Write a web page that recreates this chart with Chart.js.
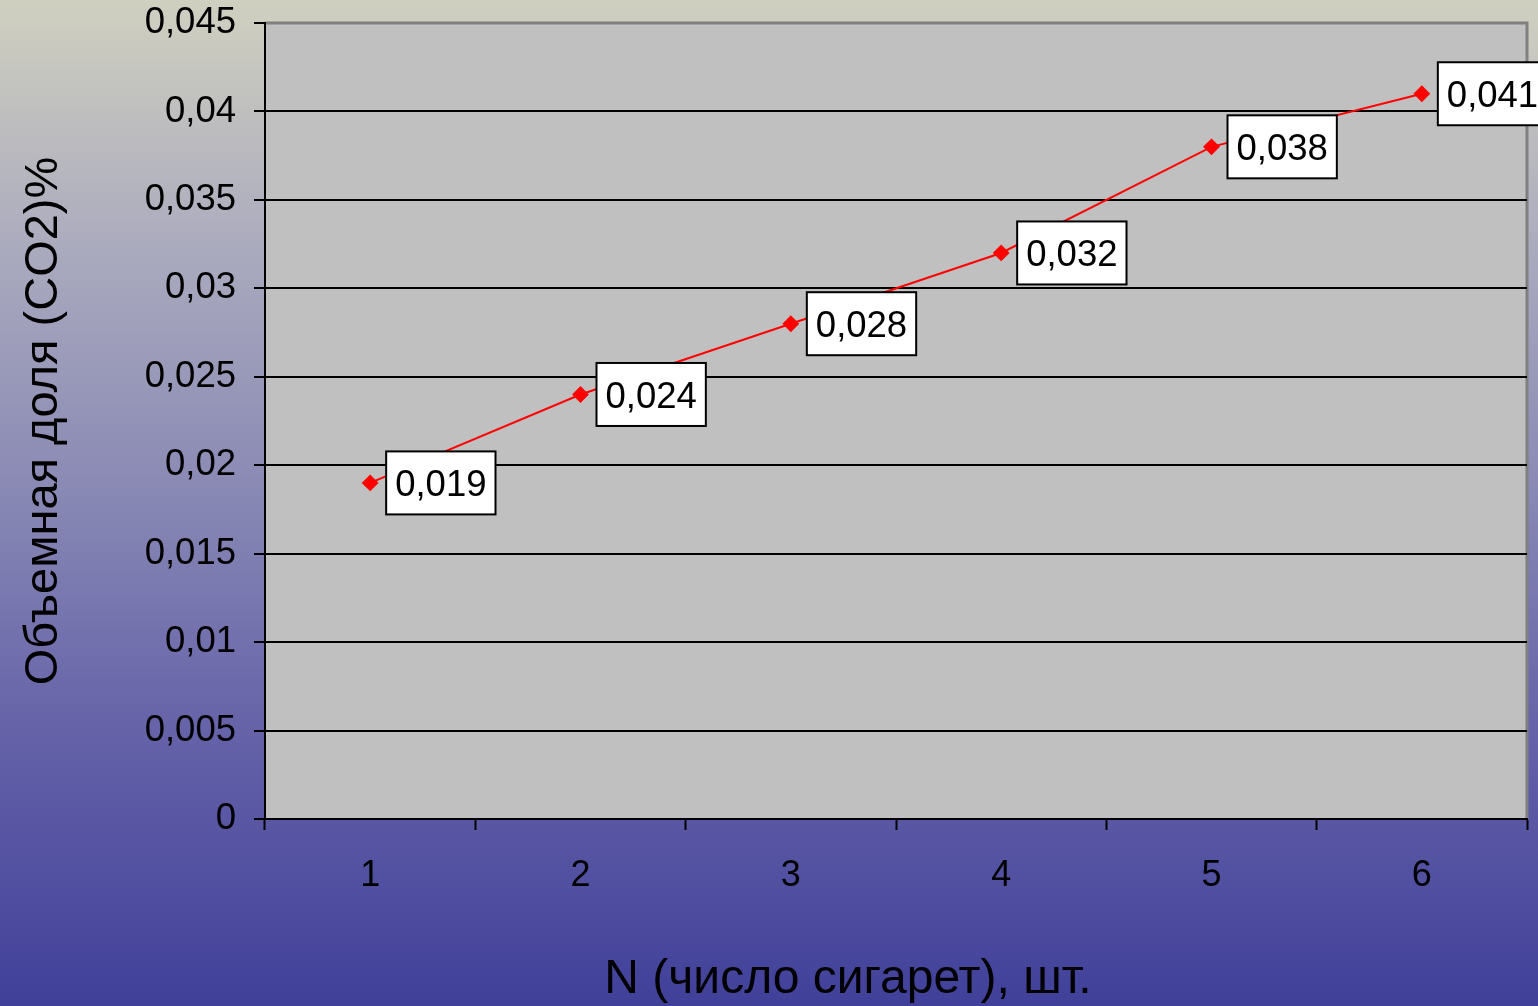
<!DOCTYPE html>
<html>
<head>
<meta charset="utf-8">
<script src="https://cdn.jsdelivr.net/npm/chart.js@4.4.1/dist/chart.umd.min.js"></script>
<style>
  html, body { margin: 0; padding: 0; }
  body { width: 1538px; height: 1006px; overflow: hidden; }
  #wrap { width: 1538px; height: 1006px; }
</style>
</head>
<body>
<div id="wrap"><canvas id="co2Chart"></canvas></div>
<script>
// значения с графика
const categories = ['1', '2', '3', '4', '5', '6'];
const co2Values = [0.019, 0.024, 0.028, 0.032, 0.038, 0.041];
const yMin = 0;
const yMax = 0.045;
const yStep = 0.005;
const xTitle = 'N (число сигарет), шт.';
const yTitle = 'Объемная доля (CO2)%';

const FONT = 'Arial, "Liberation Sans", sans-serif';
const fmt = v => Number(v.toFixed(3)).toString().replace('.', ',');

// фон слайда и серая область построения
const bgPlugin = {
    id: 'bg',
    beforeDraw(chart) {
        const c = chart.ctx;
        const g = c.createLinearGradient(0, 0, 0, chart.height);
        g.addColorStop(0, 'rgb(208,208,192)');
        g.addColorStop(0.25, 'rgb(170,170,190)');
        g.addColorStop(0.5, 'rgb(135,135,180)');
        g.addColorStop(0.7, 'rgb(105,102,170)');
        g.addColorStop(1, 'rgb(64,64,154)');
        c.save();
        c.fillStyle = g;
        c.fillRect(0, 0, chart.width, chart.height);
        const a = chart.chartArea;
        c.fillStyle = '#c0c0c0';
        c.fillRect(a.left, a.top, a.right - a.left, a.bottom - a.top);
        c.strokeStyle = '#808080';
        c.lineWidth = 3;
        c.beginPath();
        c.moveTo(a.left, a.top);
        c.lineTo(a.right, a.top);
        c.lineTo(a.right, a.bottom);
        c.stroke();
        c.restore();
    },
    afterDraw(chart) {
        // подпись оси X чуть левее центра, как на слайде
        const c = chart.ctx;
        c.save();
        c.font = '48px ' + FONT;
        c.fillStyle = '#000';
        c.textAlign = 'center';
        c.textBaseline = 'middle';
        c.fillText(xTitle, 848, 980);
        c.restore();
    }
};

// подписи значений в белых рамках
const labelPlugin = {
    id: 'boxLabels',
    afterDatasetsDraw(chart) {
        const c = chart.ctx;
        const meta = chart.getDatasetMeta(0);
        c.save();
        c.font = '36.5px ' + FONT;
        c.textBaseline = 'middle';
        c.textAlign = 'left';
        meta.data.forEach((pt, i) => {
            const txt = fmt(co2Values[i]);
            const w = c.measureText(txt).width + 18;
            const h = 63;
            const x = pt.x + 16;
            const y = pt.y - h / 2;
            c.fillStyle = '#fff';
            c.fillRect(x, y, w, h);
            c.strokeStyle = '#000';
            c.lineWidth = 2;
            c.strokeRect(x, y, w, h);
            c.fillStyle = '#000';
            c.fillText(txt, x + 9, y + h / 2 + 3);
        });
        c.restore();
    }
};

const ctx = document.getElementById('co2Chart').getContext('2d');

new Chart(ctx, {
    type: 'line',
    data: {
        labels: categories,
        datasets: [{
            data: co2Values,
            borderColor: '#ff0000',
            backgroundColor: '#ff0000',
            borderWidth: 2,
            tension: 0,
            pointStyle: 'rectRot',
            pointRadius: 7,
            pointBackgroundColor: '#ff0000',
            pointBorderColor: '#ff0000'
        }]
    },
    options: {
        responsive: true,
        maintainAspectRatio: false,
        animation: false,
        layout: {
            padding: { top: 23, right: 11, left: 0, bottom: 0 }
        },
        scales: {
            x: {
                offset: true,
                grid: {
                    offset: true,
                    drawOnChartArea: false,
                    drawTicks: true,
                    tickLength: 11,
                    tickWidth: 2,
                    tickColor: '#000'
                },
                border: { display: true, color: '#000', width: 2 },
                ticks: {
                    color: '#000',
                    padding: 24,
                    font: { family: FONT, size: 36 }
                },
                afterFit(scale) { scale.height = 187; }
            },
            y: {
                min: yMin,
                max: yMax,
                grid: {
                    color: c => (c.tick && c.tick.value >= yMax - 1e-9) ? 'rgba(0,0,0,0)' : '#000',
                    lineWidth: 2,
                    tickLength: 11,
                    tickWidth: 2,
                    tickColor: '#000'
                },
                border: { display: true, color: '#000', width: 2 },
                ticks: {
                    stepSize: yStep,
                    color: '#000',
                    padding: 18,
                    font: { family: FONT, size: 36.5 },
                    callback: v => fmt(v)
                },
                title: {
                    display: true,
                    text: yTitle,
                    color: '#000',
                    padding: { top: 16, bottom: 10 },
                    font: { family: FONT, size: 47 }
                },
                afterFit(scale) {
                    scale.width = 265;
                    scale.paddingTop = 0;
                    scale.paddingBottom = 0;
                }
            }
        },
        plugins: {
            legend: { display: false },
            tooltip: { enabled: false }
        }
    },
    plugins: [bgPlugin, labelPlugin]
});
</script>
</body>
</html>
